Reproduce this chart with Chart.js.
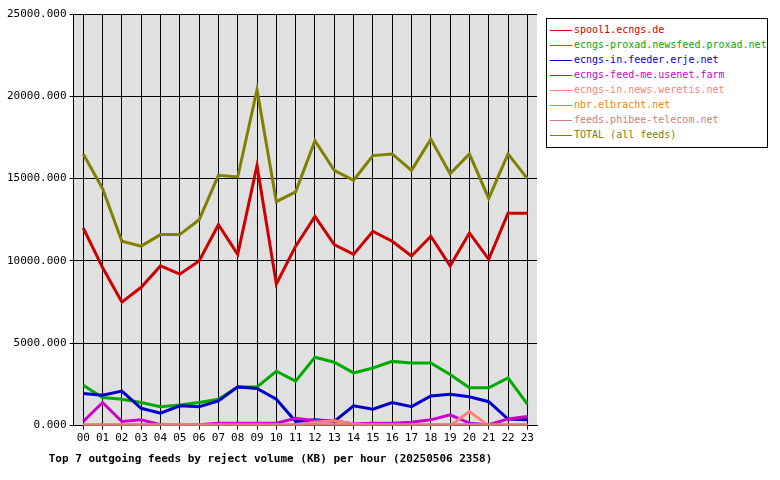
<!DOCTYPE html>
<html><head><meta charset="utf-8">
<script src="https://cdn.jsdelivr.net/npm/chart.js@4"></script>
<style>
body{margin:0;background:#fff;width:780px;height:480px;overflow:hidden;font-family:"DejaVu Sans Mono",monospace}
#wrap{position:absolute;left:0;top:0;width:545px;height:480px}
#legend{position:absolute;left:546px;top:18px;width:222px;height:130px;border:1px solid #000;padding:3px 0 0 3px;font-size:10px;line-height:15px;background:#fff;box-sizing:border-box}
#legend div{white-space:nowrap}
#legend span.k{display:inline-block;width:22px;height:0;vertical-align:middle;margin-right:2px}
</style></head><body>
<div id="wrap"><canvas id="c" width="545" height="480"></canvas></div>
<div id="legend"></div>
<script>
const hours=["00","01","02","03","04","05","06","07","08","09","10","11","12","13","14","15","16","17","18","19","20","21","22","23"];
const names=["spool1.ecngs.de","ecngs-proxad.newsfeed.proxad.net","ecngs-in.feeder.erje.net","ecngs-feed-me.usenet.farm","ecngs-in.news.weretis.net","nbr.elbracht.net","feeds.phibee-telecom.net","TOTAL (all feeds)"];
const colors=["#cc0000","#00aa00","#0000cc","#cc00cc","#ff8080","#ff8000","#cc8080","#808000"];
const spool1=[12000,9600,7500,8400,9700,9200,10000,12200,10400,15800,8600,10900,12700,11000,10400,11800,11200,10300,11500,9700,11700,10100,12900,12900];
const proxad=[2450,1700,1600,1400,1150,1250,1400,1600,2350,2350,3300,2700,4150,3850,3200,3500,3900,3800,3800,3100,2300,2300,2900,1300];
const erje=[1950,1850,2100,1050,750,1200,1150,1500,2350,2250,1600,250,350,250,1200,1000,1400,1150,1800,1900,1750,1450,400,350];
const usenetfarm=[250,1400,250,350,50,0,50,150,150,150,150,450,300,300,100,150,150,200,350,650,150,50,400,550];
const weretis=[0,0,0,0,0,0,0,0,0,0,0,0,200,300,100,0,0,0,0,0,850,0,0,0];
const elbracht=[20,20,20,20,20,20,20,20,20,20,20,20,20,20,20,20,20,20,20,20,20,20,20,20];
const phibee=[50,50,50,50,50,50,50,50,50,50,50,50,50,50,50,50,50,50,50,50,50,50,50,50];
const total=[16500,14400,11200,10900,11600,11600,12500,15200,15100,20400,13600,14200,17300,15500,14900,16400,16500,15500,17400,15300,16500,13800,16500,15000];
const yTicks=[0,5000,10000,15000,20000,25000];
const series=[spool1,proxad,erje,usenetfarm,weretis,elbracht,phibee,total];
const order=[6,5,4,3,2,1,0,7];
const lg=document.getElementById('legend');
names.forEach((n,i)=>{const d=document.createElement('div');d.style.color=colors[i];
d.innerHTML='<span class="k" style="border-top:1px solid '+colors[i]+'"></span>'+n;lg.appendChild(d);});
const bg={id:'bg',beforeDraw(ch){const a=ch.chartArea,x=ch.ctx;x.save();x.fillStyle='#e0e0e0';x.fillRect(a.left,a.top,a.right-a.left,a.bottom-a.top);x.restore();}};
new Chart(document.getElementById('c'),{type:'line',
data:{labels:hours,datasets:order.map(i=>({label:names[i],data:series[i],borderColor:colors[i],borderWidth:3,pointRadius:0,tension:0,fill:false}))},
options:{responsive:false,animation:false,devicePixelRatio:1,
layout:{padding:{left:4,right:8,top:14,bottom:14}},
plugins:{legend:{display:false},tooltip:{enabled:false},
title:{display:true,position:'bottom',text:'Top 7 outgoing feeds by reject volume (KB) per hour (20250506 2358)',color:'#000',font:{family:'DejaVu Sans Mono',size:11,weight:'bold'},padding:{top:6,bottom:0}}},
scales:{x:{offset:true,grid:{offset:false,color:'#000',drawTicks:true,tickLength:4},border:{color:'#000'},ticks:{color:'#000',font:{family:'DejaVu Sans Mono',size:11},maxRotation:0,autoSkip:false,padding:2}},
y:{min:0,max:25000,afterBuildTicks(s){s.ticks=yTicks.map(v=>({value:v}));},grid:{color:'#000',tickLength:4},border:{color:'#000'},ticks:{color:'#000',font:{family:'DejaVu Sans Mono',size:11},callback:v=>v.toFixed(3),padding:3}}}},
plugins:[bg]});
</script>
</body></html>
